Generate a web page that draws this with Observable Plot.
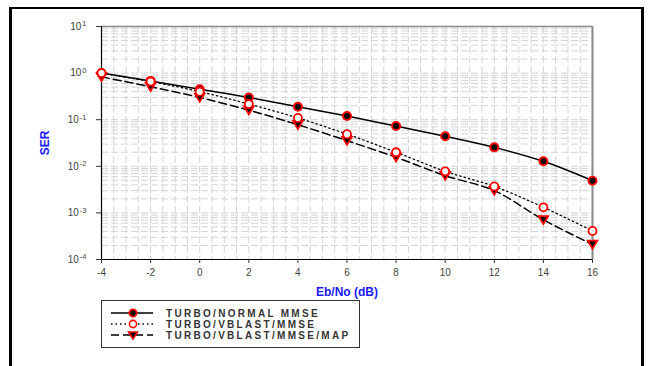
<!DOCTYPE html>
<html>
<head>
<meta charset="utf-8">
<script src="https://cdn.jsdelivr.net/npm/d3@7"></script>
<script src="https://cdn.jsdelivr.net/npm/@observablehq/plot@0.6"></script>
<style>
  html, body { margin: 0; padding: 0; background: #fff; }
  #wrap { position: relative; width: 654px; height: 366px; overflow: hidden; font-family: "Liberation Sans", Arial, sans-serif; }
  #frame { position: absolute; left: 9px; top: 7px; width: 635px; height: 360px; border-left: 3px solid #000; border-top: 2px solid #000; border-right: 3px solid #000; border-bottom: 1px solid #999; box-sizing: border-box; pointer-events: none; }
  #chart { position: absolute; left: 0; top: 0; }
  #chart g[aria-label="y-axis label"] text, #chart g[aria-label="x-axis label"] text { fill: #1a1aff; font-weight: bold; font-size: 12px; }
  #legend { position: absolute; left: 101px; top: 300px; width: 259px; height: 48px; border: 1px solid #333; box-sizing: border-box; background: #fff; }
  .row { position: absolute; left: 0; height: 12px; display: flex; align-items: center; }
  .row svg { display: block; margin-left: 8px; }
  .row span { margin-left: 12px; font-size: 10px; font-weight: bold; letter-spacing: 2.3px; color: #333; white-space: nowrap; }
</style>
</head>
<body>
<div id="wrap">
  <div id="chart"></div>
  <div id="frame"></div>
  <div id="legend"></div>
</div>
<script>
// Data
const ebno = [-4, -2, 0, 2, 4, 6, 8, 10, 12, 14, 16];
const serNormalMmse = [1.0, 0.68, 0.45, 0.30, 0.19, 0.12, 0.073, 0.044, 0.0255, 0.0128, 0.0049];
const serVblastMmse = [1.0, 0.66, 0.40, 0.217, 0.109, 0.049, 0.020, 0.0078, 0.0037, 0.00132, 0.00041];
const serVblastMap = [0.83, 0.51, 0.30, 0.16, 0.078, 0.0355, 0.0156, 0.0063, 0.0030, 0.00071, 0.00021];
const seriesNames = ["TURBO/NORMAL MMSE", "TURBO/VBLAST/MMSE", "TURBO/VBLAST/MMSE/MAP"];
const xTicks = [-4, -2, 0, 2, 4, 6, 8, 10, 12, 14, 16];
const yTicks = [1e-4, 1e-3, 1e-2, 1e-1, 1e0, 1e1];

const rowsOf = (vals, name) => ebno.map((x, i) => ({x, y: vals[i], name}));
const dNormal = rowsOf(serNormalMmse, seriesNames[0]);
const dVblast = rowsOf(serVblastMmse, seriesNames[1]);
const dMap = rowsOf(serVblastMap, seriesNames[2]);

const fmtPow = d => "10^" + Math.round(Math.log10(d));

const triangleDown = {
  draw(ctx, size) {
    const r = Math.sqrt(size / Math.PI);
    ctx.moveTo(0, r * 1.0);
    ctx.lineTo(-r * 1.15, -r * 0.9);
    ctx.lineTo(r * 1.15, -r * 0.9);
    ctx.closePath();
  }
};

// grid positions (minor grid)
const gridX = d3.range(-4, 16.01, 0.5);
const gridY = [];
for (let e = -4; e <= 0; e++) for (let k = 1; k <= 9; k++) gridY.push(k * Math.pow(10, e));

const gridStyle = {stroke: "#d4d4d4", strokeWidth: 1, strokeDasharray: "7,3"};

const chart = Plot.plot({
  width: 654,
  height: 366,
  marginLeft: 101,
  marginRight: 62,
  marginTop: 26,
  marginBottom: 107,
  style: {fontFamily: "'Liberation Sans', Arial, sans-serif", fontSize: "10px", color: "#333", background: "transparent"},
  x: {domain: [-4, 16]},
  y: {type: "log", domain: [1e-4, 10]},
  marks: [
    Plot.ruleX(gridX, {...gridStyle}),
    Plot.ruleY(gridY, {...gridStyle}),
    Plot.ruleY([10], {stroke: "#888", strokeWidth: 1.5}),
    Plot.ruleX([16], {stroke: "#888", strokeWidth: 2}),
    Plot.ruleX([-4], {stroke: "#000", strokeWidth: 1.2}),
    Plot.ruleY([1e-4], {stroke: "#000", strokeWidth: 1.2}),
    Plot.axisX({ticks: xTicks, tickSize: 4, tickPadding: 5, tickFormat: d => String(d), label: "Eb/No (dB)", labelAnchor: "center", labelArrow: false, labelOffset: 36, fill: "#444"}),
    Plot.axisY({ticks: yTicks, tickFormat: fmtPow, tickSize: 5, tickPadding: 10, label: "SER", labelAnchor: "center", labelArrow: false, labelOffset: 61, fill: "#444"}),
    Plot.line(dNormal, {x: "x", y: "y", stroke: "#000", strokeWidth: 1.5, curve: "catmull-rom"}),
    Plot.line(dVblast, {x: "x", y: "y", stroke: "#000", strokeWidth: 1.3, strokeDasharray: "1.5,3", curve: "catmull-rom"}),
    Plot.line(dMap, {x: "x", y: "y", stroke: "#000", strokeWidth: 1.5, strokeDasharray: "8,4", curve: "catmull-rom"}),
    Plot.dot(dNormal, {x: "x", y: "y", r: 4, fill: "#000", stroke: "#ff0000", strokeWidth: 2}),
    Plot.dot(dMap, {x: "x", y: "y", r: 4.2, symbol: triangleDown, fill: "#000", stroke: "#ff0000", strokeWidth: 1.8}),
    Plot.dot(dVblast, {x: "x", y: "y", r: 4, fill: "#fff", stroke: "#ff0000", strokeWidth: 1.8})
  ]
});
document.getElementById("chart").appendChild(chart);

// Turn "10^e" tick labels into 10 with a superscript exponent
d3.select(chart).selectAll('g[aria-label="y-axis tick label"] text').each(function() {
  const t = d3.select(this);
  const s = t.text();
  if (!s.includes("^")) return;
  const [base, exp] = s.split("^");
  t.text(null);
  t.append("tspan").text(base);
  t.append("tspan").attr("font-size", "7.5px").attr("dy", "-0.45em").attr("dx", "1").text(exp);
});
// remove any label arrows if present
d3.select(chart).selectAll('g[aria-label$="axis label"] text').each(function() {
  const t = d3.select(this);
  t.text(t.text().replace(/[\u2190-\u2193]\s*|\s*[\u2190-\u2193]/g, ""));
});

// Legend
const legend = document.getElementById("legend");
const legendStyles = [
  {dash: null, marker: "filled"},
  {dash: "1.5,3", marker: "open"},
  {dash: "8,4", marker: "tri"}
];
seriesNames.forEach((name, i) => {
  const row = document.createElement("div");
  row.className = "row";
  row.style.top = (6 + i * 11) + "px";
  const st = legendStyles[i];
  let m;
  if (st.marker === "filled") m = '<circle cx="23" cy="6" r="3.6" fill="#000" stroke="#f00" stroke-width="1.8"/>';
  else if (st.marker === "open") m = '<circle cx="23" cy="6" r="3.6" fill="#fff" stroke="#f00" stroke-width="1.6"/>';
  else m = '<path d="M23,10 L18.5,3 L27.5,3 Z" fill="#000" stroke="#f00" stroke-width="1.5"/>';
  row.innerHTML = '<svg width="44" height="12"><line x1="1" y1="6" x2="43" y2="6" stroke="#000" stroke-width="1.4"' +
    (st.dash ? ' stroke-dasharray="' + st.dash + '"' : '') + '/>' + m + '</svg><span>' + name + '</span>';
  legend.appendChild(row);
});
</script>
</body>
</html>
